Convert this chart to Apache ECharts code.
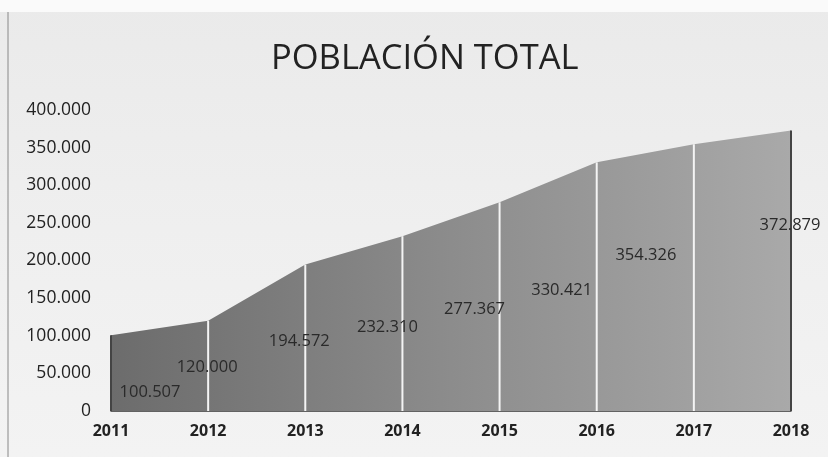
<!DOCTYPE html>
<html><head><meta charset="utf-8">
<script src="https://cdn.jsdelivr.net/npm/echarts@6/dist/echarts.min.js"></script>
<style>html,body{margin:0;padding:0;background:#fff}#c{width:828px;height:457px}</style>
</head><body><div id="c"></div>
<script>
var years = ['2011','2012','2013','2014','2015','2016','2017','2018'];
var population = [100507, 120000, 194572, 232310, 277367, 330421, 354326, 372879];
var yTicks = [0, 50000, 100000, 150000, 200000, 250000, 300000, 350000, 400000];
var chartTitle = 'POBLACIÓN TOTAL';

// label placement (style only): pixel offsets relative to each point
var labelShift = [[39,57],[-1,47],[-6,77],[-15,91],[-25,107],[-35,128],[-48,111],[-1,95]];

function fmt(v){ return String(v).replace(/\B(?=(\d{3})+(?!\d))/g,'.'); }

var chart = echarts.init(document.getElementById('c'));
chart.setOption({
  backgroundColor: {
    type:'linear', x:0, y:0, x2:0, y2:1,
    colorStops:[{offset:0,color:'#eaeaea'},{offset:0.5,color:'#efefef'},{offset:1,color:'#f3f3f3'}]
  },
  graphic: [
    {type:'rect', shape:{x:0,y:0,width:828,height:12}, style:{fill:'#fafafa'}, z:-1},
    {type:'line', shape:{x1:8,y1:12,x2:8,y2:457}, style:{stroke:'#888',lineWidth:1}}
  ],
  title: {
    text: chartTitle, left: 266, top: 37,
    textStyle:{fontFamily:'Open Sans', fontWeight:'normal', fontSize:34.5, color:'#222'}
  },
  grid: {left:111, right:37, top:110, bottom:46, containLabel:false},
  xAxis: {
    type:'category', data: years, boundaryGap:false,
    axisLine:{show:true, lineStyle:{color:'#333', width:1.5}},
    axisTick:{show:false},
    axisLabel:{fontFamily:'Open Sans', fontWeight:'bold', fontSize:16, color:'#222', margin:12},
    splitLine:{show:false}
  },
  yAxis: {
    type:'value', min:0, max:400000, interval:50000,
    axisLine:{show:false}, axisTick:{show:false},
    axisLabel:{fontFamily:'Open Sans', fontSize:17.5, color:'#222', margin:20,
      formatter:function(v){ return yTicks.indexOf(v)>=0 ? fmt(v) : ''; }},
    splitLine:{show:false}
  },
  series: [
    {
      type:'line', data: population,
      symbol:'none', lineStyle:{width:0},
      areaStyle:{opacity:1, color:{type:'linear', x:0, y:0, x2:1, y2:0,
        colorStops:[{offset:0,color:'#6c6c6c'},{offset:0.5,color:'#8c8c8c'},{offset:1,color:'#a9a9a9'}]}},
      z:2
    },
    {
      type:'bar', data: population.map(function(v,i){
        return {value:v,
          itemStyle:{color:(i===0||i===population.length-1)?'#444':'#f4f4f4'},
          label:{position:['50%', labelShift[i][1]], offset:[labelShift[i][0],0]}};
      }),
      barWidth:2, silent:true, z:3,
      label:{show:true, align:'center', verticalAlign:'middle',
        formatter:function(p){return fmt(p.value);},
        fontFamily:'Open Sans', fontSize:16.5, color:'#2a2a2a'}
    }
  ]
});
</script></body></html>
